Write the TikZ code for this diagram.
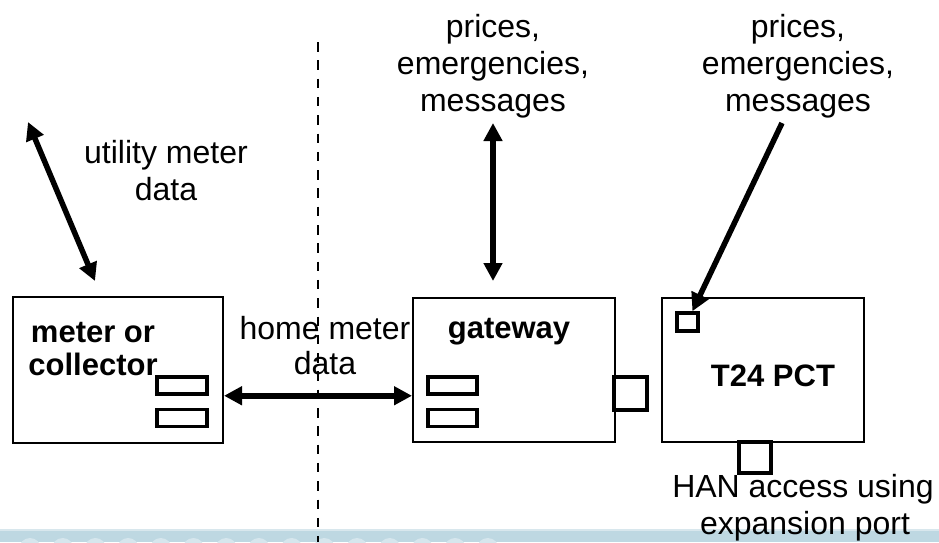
\documentclass[tikz,border=0pt]{standalone}
\usepackage{fontspec}
\setmainfont{Liberation Sans}
\usetikzlibrary{arrows.meta,calc}
\definecolor{bandblue}{RGB}{190,216,226}
\definecolor{bandlight}{RGB}{214,230,237}
\begin{document}
\begin{tikzpicture}[x=1pt,y=-1pt,
  box/.style={draw, line width=2pt, rectangle, inner sep=0pt},
  port/.style={draw, line width=3.5pt, rectangle, inner sep=0pt},
  lbl/.style={font=\fontsize{32}{37}\selectfont, align=center, inner sep=0pt},
  lblb/.style={font=\fontsize{32}{35}\selectfont, align=center, inner sep=0pt},
  blbl/.style={font=\fontsize{31}{33}\selectfont\bfseries, align=center, inner sep=0pt},
  dbl/.style={line width=5.5pt, {Triangle[length=18pt,width=18pt]}-{Triangle[length=18pt,width=18pt]}},
  sgl/.style={line width=5.5pt, -{Triangle[length=18pt,width=18pt]}},
  divider/.style={line width=2.3pt, dash pattern=on 9.5pt off 8.8pt}
]
\useasboundingbox (0,0) rectangle (939,542);
% background band
\fill[bandblue] (0,529) rectangle (939,542);
\fill[white, opacity=0.4] (0,529) rectangle (939,531);
\begin{scope}
  \clip (0,531) rectangle (939,542);
  \foreach \k in {0,...,14} \fill[bandlight] (30+32.7*\k,549) circle (11pt);
\end{scope}
% divider
\coordinate (dtop) at (318,42);
\coordinate (dbot) at (318,542);
\draw[divider] (dtop) -- (dbot);
% boxes
\node[box, minimum width=210pt, minimum height=146pt] (meter) at (118,370) {};
\node[box, minimum width=202pt, minimum height=144pt] (gw) at (514,370) {};
\node[box, minimum width=202pt, minimum height=144pt] (pct) at (763,370) {};
% ports
\node[port, minimum width=50pt, minimum height=17pt] (mp1) at (182,385.5) {};
\node[port, minimum width=50pt, minimum height=17pt] (mp2) at (182,418) {};
\node[port, minimum width=49pt, minimum height=17pt] (gp1) at (452.5,385.5) {};
\node[port, minimum width=49pt, minimum height=17pt] (gp2) at (452.5,418) {};
\node[port, minimum width=33pt, minimum height=33pt] (gside) at (630.5,393.5) {};
\node[port, minimum width=21pt, minimum height=18pt] (pctport) at (687.5,322) {};
\node[port, minimum width=32pt, minimum height=31pt] (pctexp) at (755,457.5) {};
% labels
\node[blbl] (meterlbl) at (93,349) {meter or\\collector};
\node[blbl, anchor=base] (gwlbl) at (509,338) {gateway};
\node[blbl, anchor=base] (pctlbl) at (773,386.5) {T24 PCT};
\node[lblb] (homelbl) at (325,345.5) {home meter\\data};
\node[lbl] (utillbl) at (166,170.5) {utility meter\\data};
\node[lbl] (gwmsg) at (493,66) {prices,\\emergencies,\\messages};
\node[lbl] (pctmsg) at (798,66) {prices,\\emergencies,\\messages};
\node[lbl, anchor=base] (han1) at (803,497) {HAN access using};
\node[lbl, anchor=base] (han2) at (805,534) {expansion port};
% connectors
\coordinate (u1) at (28,122);
\coordinate (u2) at (95,281);
\draw[dbl] (u1) -- (u2);
\coordinate (g1) at (493,123);
\coordinate (g2) at (493,281);
\draw[dbl] (g1) -- (g2);
\coordinate (p1) at (782,123);
\draw[sgl] (p1) -- ($(pctport.north)!0.4!(pctport.north east)$);
\draw[dbl] (meter.east |- mp1.south) -- (gw.west |- mp1.south);
\end{tikzpicture}
\end{document}
